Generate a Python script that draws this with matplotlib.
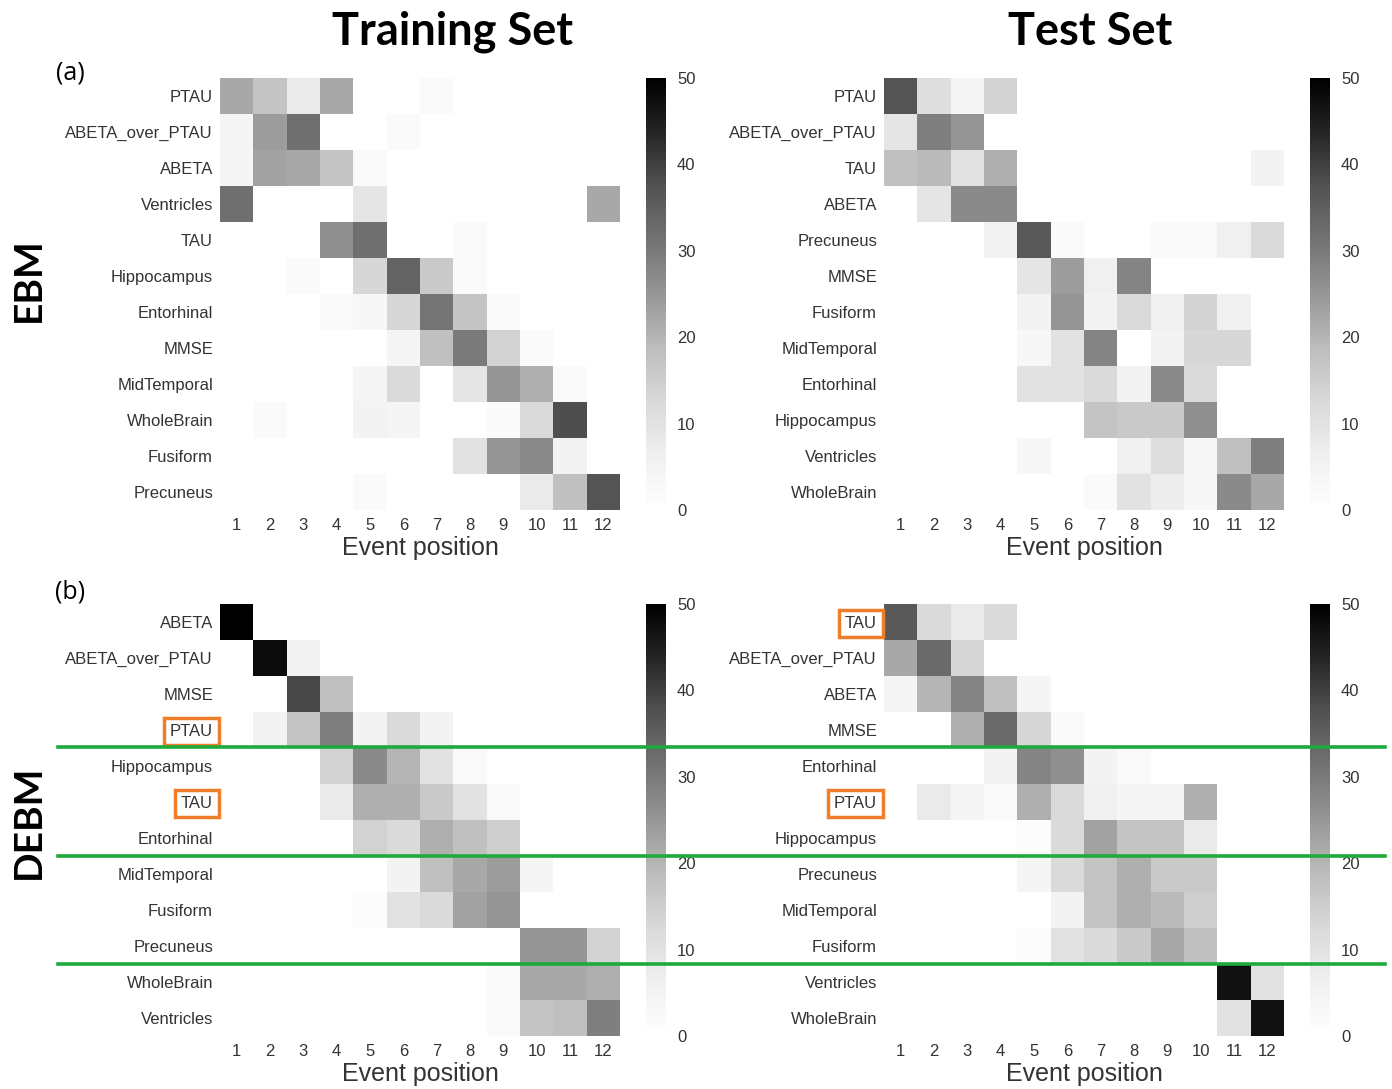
import numpy as np
import matplotlib
matplotlib.use("Agg")
import matplotlib.pyplot as plt
from matplotlib.lines import Line2D

positions = list(range(1, 13))

# EBM, training set
ebm_train_rows = ["PTAU", "ABETA_over_PTAU", "ABETA", "Ventricles", "TAU", "Hippocampus",
                  "Entorhinal", "MMSE", "MidTemporal", "WholeBrain", "Fusiform", "Precuneus"]
ebm_train = [
    [22, 17, 8, 22, 0, 0, 2, 0, 0, 0, 0, 0],
    [4, 24, 32, 0, 0, 2, 0, 0, 0, 0, 0, 0],
    [4, 23, 22, 17, 2, 0, 0, 0, 0, 0, 0, 0],
    [32, 0, 0, 0, 9, 0, 0, 0, 0, 0, 0, 22],
    [0, 0, 0, 26, 32, 0, 0, 2, 0, 0, 0, 0],
    [0, 0, 2, 0, 13, 34, 16, 2, 0, 0, 0, 0],
    [0, 0, 0, 2, 3, 13, 31, 17, 2, 0, 0, 0],
    [0, 0, 0, 0, 0, 4, 18, 30, 14, 2, 0, 0],
    [0, 0, 0, 0, 4, 12, 0, 9, 25, 21, 2, 0],
    [0, 2, 0, 0, 5, 4, 0, 0, 2, 12, 38, 0],
    [0, 0, 0, 0, 0, 0, 0, 10, 25, 27, 5, 0],
    [0, 0, 0, 0, 2, 0, 0, 0, 0, 8, 18, 37],
]

# EBM, test set
ebm_test_rows = ["PTAU", "ABETA_over_PTAU", "TAU", "ABETA", "Precuneus", "MMSE",
                 "Fusiform", "MidTemporal", "Entorhinal", "Hippocampus", "Ventricles", "WholeBrain"]
ebm_test = [
    [37, 11, 4, 14, 0, 0, 0, 0, 0, 0, 0, 0],
    [9, 29, 25, 0, 0, 0, 0, 0, 0, 0, 0, 0],
    [18, 19, 10, 21, 0, 0, 0, 0, 0, 0, 0, 5],
    [0, 9, 27, 27, 0, 0, 0, 0, 0, 0, 0, 0],
    [0, 0, 0, 5, 36, 2, 0, 0, 2, 2, 6, 12],
    [0, 0, 0, 0, 9, 24, 6, 28, 0, 0, 0, 0],
    [0, 0, 0, 0, 5, 25, 5, 12, 6, 14, 6, 0],
    [0, 0, 0, 0, 3, 10, 28, 0, 5, 13, 13, 0],
    [0, 0, 0, 0, 10, 10, 12, 5, 27, 12, 0, 0],
    [0, 0, 0, 0, 0, 0, 17, 16, 16, 26, 0, 0],
    [0, 0, 0, 0, 3, 0, 0, 6, 11, 3, 18, 29],
    [0, 0, 0, 0, 0, 0, 2, 10, 7, 3, 27, 22],
]

# DEBM, training set
debm_train_rows = ["ABETA", "ABETA_over_PTAU", "MMSE", "PTAU", "Hippocampus", "TAU",
                   "Entorhinal", "MidTemporal", "Fusiform", "Precuneus", "WholeBrain", "Ventricles"]
debm_train = [
    [50, 0, 0, 0, 0, 0, 0, 0, 0, 0, 0, 0],
    [0, 48, 5, 0, 0, 0, 0, 0, 0, 0, 0, 0],
    [0, 0, 39, 18, 0, 0, 0, 0, 0, 0, 0, 0],
    [0, 5, 17, 29, 5, 12, 5, 0, 0, 0, 0, 0],
    [0, 0, 0, 14, 27, 20, 10, 2, 0, 0, 0, 0],
    [0, 0, 0, 8, 21, 21, 16, 10, 2, 0, 0, 0],
    [0, 0, 0, 0, 14, 12, 21, 18, 15, 0, 0, 0],
    [0, 0, 0, 0, 0, 5, 18, 22, 24, 4, 0, 0],
    [0, 0, 0, 0, 1, 10, 12, 23, 25, 0, 0, 0],
    [0, 0, 0, 0, 0, 0, 0, 0, 0, 25, 25, 14],
    [0, 0, 0, 0, 0, 0, 0, 0, 2, 22, 22, 21],
    [0, 0, 0, 0, 0, 0, 0, 0, 2, 17, 18, 29],
]

# DEBM, test set
debm_test_rows = ["TAU", "ABETA_over_PTAU", "ABETA", "MMSE", "Entorhinal", "PTAU",
                  "Hippocampus", "Precuneus", "MidTemporal", "Fusiform", "Ventricles", "WholeBrain"]
debm_test = [
    [36, 12, 8, 12, 0, 0, 0, 0, 0, 0, 0, 0],
    [22, 33, 13, 0, 0, 0, 0, 0, 0, 0, 0, 0],
    [4, 20, 28, 18, 4, 0, 0, 0, 0, 0, 0, 0],
    [0, 0, 21, 33, 13, 2, 0, 0, 0, 0, 0, 0],
    [0, 0, 0, 5, 28, 26, 5, 2, 0, 0, 0, 0],
    [0, 8, 4, 2, 21, 12, 6, 4, 4, 21, 0, 0],
    [0, 0, 0, 0, 1, 12, 23, 17, 17, 8, 0, 0],
    [0, 0, 0, 0, 4, 12, 17, 21, 16, 16, 0, 0],
    [0, 0, 0, 0, 0, 5, 17, 21, 19, 15, 0, 0],
    [0, 0, 0, 0, 1, 10, 12, 16, 22, 18, 0, 0],
    [0, 0, 0, 0, 0, 0, 0, 0, 0, 0, 47, 10],
    [0, 0, 0, 0, 0, 0, 0, 0, 0, 0, 10, 47],
]

W, H = 1392, 1089
fig = plt.figure(figsize=(W / 100, H / 100), dpi=100)
plt.rcParams['font.family'] = ['Liberation Sans', 'DejaVu Sans']


def px_axes(x0, y0, x1, y1):
    # pixel box (top-left origin) -> figure axes
    return fig.add_axes([x0 / W, 1 - y1 / H, (x1 - x0) / W, (y1 - y0) / H])


def draw_panel(x0, y0, data, rows, boxed=()):
    ax = px_axes(x0, y0, x0 + 400, y0 + 432)
    im = ax.imshow(np.array(data), cmap="Greys", vmin=0, vmax=50, aspect="auto",
                   extent=(0.5, 12.5, 11.5, -0.5))
    ax.set_xticks(positions)
    ax.set_xticklabels([str(p) for p in positions], fontsize=12, color="#333333")
    ax.set_yticks(range(len(rows)))
    ax.set_yticklabels(rows, fontsize=12, color="#333333")
    ax.tick_params(axis="y", length=0, pad=5)
    ax.tick_params(axis="x", length=0, pad=6)
    for s in ax.spines.values():
        s.set_visible(False)
    ax.set_xlabel("Event position", fontsize=18, color="#333333", labelpad=2)
    for lbl in ax.get_yticklabels():
        if lbl.get_text() in boxed:
            lbl.set_bbox(dict(facecolor="none", edgecolor="#f07d2a", linewidth=2.5,
                              boxstyle="square,pad=0.35"))
    cax = px_axes(x0 + 426, y0, x0 + 446, y0 + 432)
    cb = fig.colorbar(im, cax=cax, ticks=[0, 10, 20, 30, 40, 50])
    cb.outline.set_visible(False)
    cb.ax.tick_params(length=0, labelsize=12, labelcolor="#333333", pad=8)
    return ax


draw_panel(220, 78, ebm_train, ebm_train_rows)
draw_panel(884, 78, ebm_test, ebm_test_rows)
draw_panel(220, 604, debm_train, debm_train_rows, boxed=("PTAU", "TAU"))
draw_panel(884, 604, debm_test, debm_test_rows, boxed=("PTAU", "TAU"))

# group separators for DEBM
for yy in (747, 856, 964):
    fig.add_artist(Line2D([58 / W, 1385 / W], [1 - yy / H, 1 - yy / H],
                          color="#1faa3c", linewidth=2.6))

fig.text(453 / W, 1 - 32 / H, "Training Set", fontsize=32.5, fontweight="bold",
         family="Lato", ha="center", va="center")
fig.text(1090 / W, 1 - 32 / H, "Test Set", fontsize=32.5, fontweight="bold",
         family="Lato", ha="center", va="center")
fig.text(28 / W, 1 - 280 / H, "EBM", fontsize=28, fontweight="bold", family="Lato",
         rotation=90, ha="center", va="center")
fig.text(28 / W, 1 - 822 / H, "DEBM", fontsize=28, fontweight="bold", family="Lato",
         rotation=90, ha="center", va="center")
fig.text(70 / W, 1 - 73 / H, "(a)", fontsize=18, family="Open Sans", ha="center", va="center")
fig.text(70 / W, 1 - 592 / H, "(b)", fontsize=18, family="Open Sans", ha="center", va="center")

fig.savefig("out.png", dpi=100, facecolor="white")
